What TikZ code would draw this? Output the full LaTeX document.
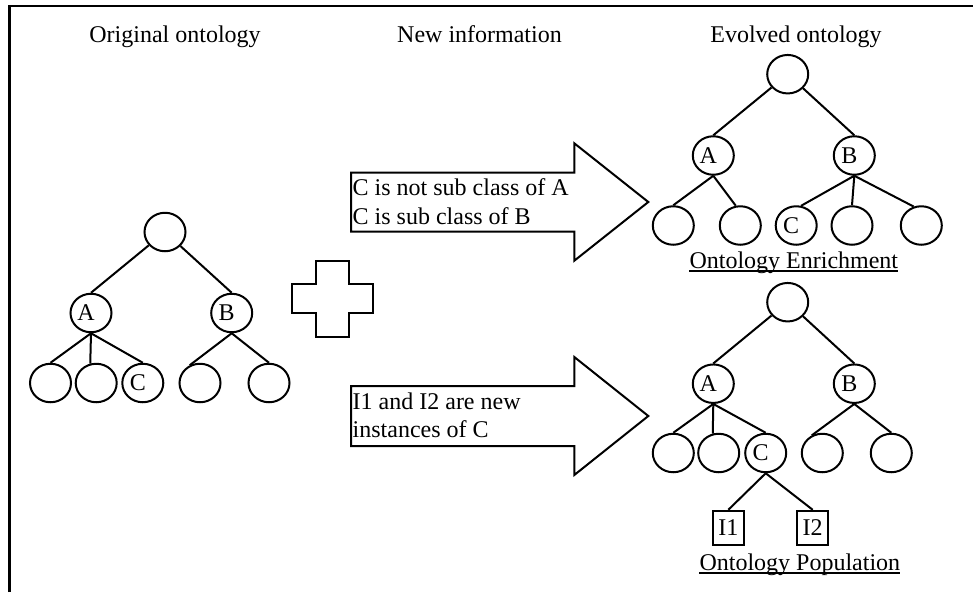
\documentclass[tikz,border=0pt]{standalone}
\usepackage{fontspec}
\setmainfont{Liberation Serif}
\usetikzlibrary{shapes.geometric}
% letters in the class ellipses sit a little left of centre
\newcommand\offl[1]{\hspace*{-10pt}#1}
\begin{document}
\begin{tikzpicture}[x=1pt,y=-1pt,
  every node/.style={font=\fontsize{24}{28.6}\selectfont},
  cls/.style={ellipse,draw,line width=2pt,minimum width=41pt,minimum height=38.5pt,inner sep=0pt},
  inst/.style={rectangle,draw,line width=2pt,minimum width=31pt,minimum height=34pt,inner sep=0pt},
  link/.style={line width=2pt},
  txt/.style={inner sep=0pt,anchor=base west},
  title/.style={inner sep=0pt,anchor=base},
  outline/.style={line width=2pt,line join=miter},
  uline/.style={line width=1.6pt}]
\useasboundingbox (0,0) rectangle (973,592);

% frame
\draw[line width=2.5pt] (9.7,592) -- (9.7,6.2) -- (973,6.2);

% column titles
\node[title] (t1) at (175,42) {Original ontology};
\node[title] (t2) at (479.5,42) {New information};
\node[title] (t3) at (796,42) {Evolved ontology};

% original ontology
\node[cls] (L0) at (165,232) {};
\node[cls] (LA) at (91,313) {\offl{A}};
\node[cls] (LB) at (231.7,313) {\offl{B}};
\node[cls] (L1) at (50.5,383) {};
\node[cls] (L2) at (96.2,383) {};
\node[cls] (L3) at (142.8,383) {\offl{C}};
\node[cls] (L4) at (200,383) {};
\node[cls] (L5) at (269,383) {};
\draw[link] (L0) -- (LA.north);
\draw[link] (L0) -- (LB.north);
\draw[link] (LA.south) -- (L1.north);
\draw[link] (LA.south) -- (L2.107);
\draw[link] (LA.south) -- (L3.north);
\draw[link] (LB.south) -- (L4.120);
\draw[link] (LB.south) -- (L5.north);

% plus sign
\draw[outline] (315.7,261) -- (349.3,261) -- (349.3,284.3) -- (372.7,284.3)
  -- (372.7,312.7) -- (349.3,312.7) -- (349.3,336.7) -- (315.7,336.7)
  -- (315.7,312.7) -- (291.7,312.7) -- (291.7,284.3) -- (315.7,284.3) -- cycle;

% new information arrows
\draw[outline] (351,172.5) -- (574.3,172.5) -- (574.3,143.3) -- (648.3,202)
  -- (574.3,260.7) -- (574.3,231.5) -- (351,231.5) -- cycle;
\node[txt] (n1) at (352.5,195.7) {C is not sub class of A};
\node[txt] (n2) at (352.5,224.3) {C is sub class of B};

\draw[outline] (351,386) -- (574.3,386) -- (574.3,357) -- (648.3,416)
  -- (574.3,475) -- (574.3,446) -- (351,446) -- cycle;
\node[txt] (n3) at (352.5,409.3) {I1 and I2 are new};
\node[txt] (n4) at (352.5,437.3) {instances of C};

% evolved ontology: enrichment
\node[cls] (E0) at (787.7,74.2) {};
\node[cls] (EA) at (713.3,155.5) {\offl{A}};
\node[cls] (EB) at (854.3,155.5) {\offl{B}};
\node[cls] (E1) at (673.3,225.5) {};
\node[cls] (E2) at (740.3,225.5) {};
\node[cls] (E3) at (796.2,225.5) {\offl{C}};
\node[cls] (E4) at (852,225.5) {};
\node[cls] (E5) at (921.3,225.5) {};
\draw[link] (E0) -- (EA.north);
\draw[link] (E0) -- (EB.north);
\draw[link] (EA.south) -- (E1.north);
\draw[link] (EA.south) -- (E2.103);
\draw[link] (EB.south) -- (E3.76);
\draw[link] (EB.south) -- (E4.north);
\draw[link] (EB.south) -- (E5.112);
\node[txt] (enr) at (689.3,268.5) {Ontology Enrichment};
\draw[uline] ([yshift=-2.5pt]enr.base west) -- ([yshift=-2.5pt]enr.base east);

% evolved ontology: population
\node[cls] (P0) at (787.7,302.2) {};
\node[cls] (PA) at (713.3,383.7) {\offl{A}};
\node[cls] (PB) at (854.3,383.7) {\offl{B}};
\node[cls] (P1) at (673.3,453) {};
\node[cls] (P2) at (718.7,453) {};
\node[cls] (P3) at (765.7,453) {\offl{C}};
\node[cls] (P4) at (822.3,453) {};
\node[cls] (P5) at (891.3,453) {};
\node[inst] (I1) at (728.3,527.8) {I1};
\node[inst] (I2) at (812.7,527.8) {I2};
\draw[link] (P0) -- (PA.north);
\draw[link] (P0) -- (PB.north);
\draw[link] (PA.south) -- (P1.north);
\draw[link] (PA.south) -- (P2.107);
\draw[link] (PA.south) -- (P3.north);
\draw[link] (PB.south) -- (P4.121);
\draw[link] (PB.south) -- (P5.north);
\draw[link] (P3.south) -- (I1.north);
\draw[link] (P3.south) -- (I2.north);
\node[txt] (pop) at (699.3,570.7) {Ontology Population};
\draw[uline] ([yshift=-2.5pt]pop.base west) -- ([yshift=-2.5pt]pop.base east);
\end{tikzpicture}
\end{document}
